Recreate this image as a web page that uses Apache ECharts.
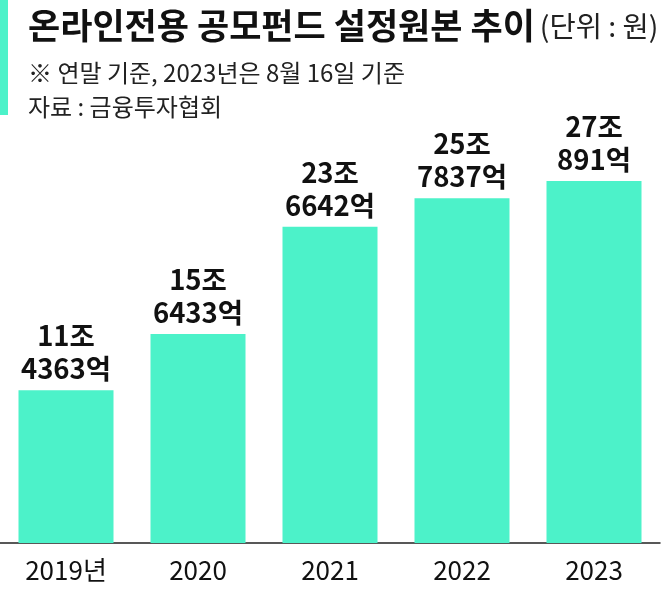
<!DOCTYPE html>
<html>
<head>
<meta charset="utf-8">
<script src="https://cdn.jsdelivr.net/npm/echarts@6/dist/echarts.min.js"></script>
<style>
html,body{margin:0;padding:0;background:#fff;}
#c{width:661px;height:591px;}
</style>
</head>
<body>
<div id="c"></div>
<script>
const categories = ['2019년', '2020', '2021', '2022', '2023'];
const values = [11.4363, 15.6433, 23.6642, 25.7837, 27.0891]; // 조 원
const labels = ['11조\n4363억', '15조\n6433억', '23조\n6642억', '25조\n7837억', '27조\n891억'];
const titleText = '온라인전용 공모펀드 설정원본 추이';
const unitText = '(단위 : 원)';
const note1 = '※ 연말 기준, 2023년은 8월 16일 기준';
const note2 = '자료 : 금융투자협회';

const COLOR = '#4CF2C9';
const FONT = '"Noto Sans CJK KR", "Noto Sans", sans-serif';

const chart = echarts.init(document.getElementById('c'), null, {renderer: 'canvas'});
chart.setOption({
  backgroundColor: '#fff',
  animation: false,
  title: [
    {
      left: 23, top: -2,
      text: '{a|' + titleText + '} {b|' + unitText + '}',
      textStyle: {
        rich: {
          a: {fontFamily: FONT, fontSize: 35, fontWeight: 'bold', color: '#111', lineHeight: 46},
          b: {fontFamily: FONT, fontSize: 28.5, fontWeight: 'normal', color: '#222', lineHeight: 46}
        }
      }
    },
    {
      left: 23, top: 53,
      text: note1,
      textStyle: {fontFamily: FONT, fontSize: 24, fontWeight: 'normal', color: '#222', lineHeight: 30}
    },
    {
      left: 23, top: 87,
      text: note2,
      textStyle: {fontFamily: FONT, fontSize: 24, fontWeight: 'normal', color: '#222', lineHeight: 30}
    }
  ],
  graphic: [
    {type: 'rect', left: 0, top: 0, shape: {width: 8, height: 115}, style: {fill: COLOR}}
  ],
  grid: {left: 0, right: 1, top: 142, bottom: 48, containLabel: false},
  xAxis: {
    type: 'category',
    data: categories,
    axisLine: {show: true, lineStyle: {color: '#222', width: 1.5}},
    axisTick: {show: false},
    axisLabel: {fontFamily: FONT, fontSize: 26, color: '#111', margin: 13, lineHeight: 28}
  },
  yAxis: {
    type: 'value', min: 0, max: 30, interval: 10,
    show: false, splitLine: {show: false}
  },
  series: [{
    type: 'bar',
    data: values,
    barWidth: 95,
    itemStyle: {color: COLOR},
    label: {
      show: true,
      position: 'top',
      distance: 5,
      formatter: p => labels[p.dataIndex],
      fontFamily: FONT,
      fontSize: 27.5,
      fontWeight: 'bold',
      color: '#111',
      lineHeight: 33
    }
  }]
});
</script>
</body>
</html>
